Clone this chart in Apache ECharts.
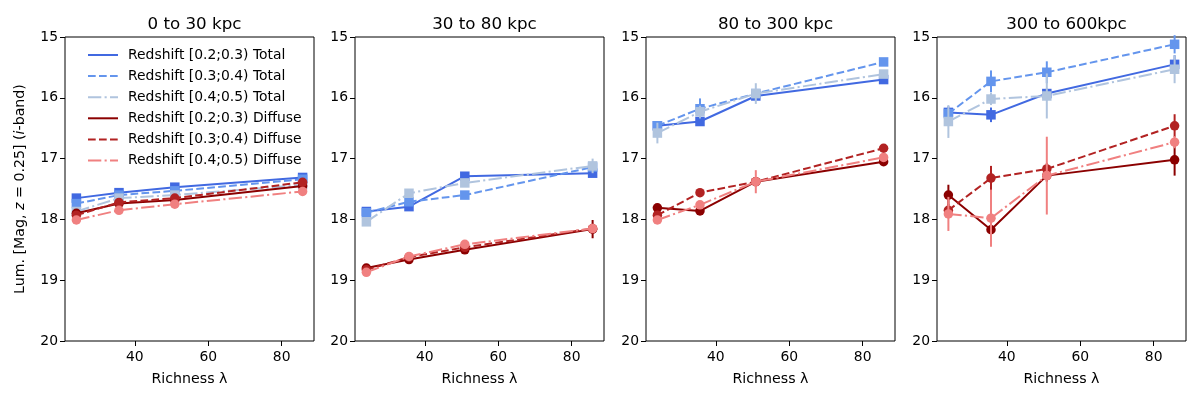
<!DOCTYPE html>
<html>
<head>
<meta charset="utf-8">
<script src="https://cdn.jsdelivr.net/npm/echarts@6/dist/echarts.min.js"></script>
<style>
html,body{margin:0;padding:0;background:#fff;}
#chart{width:1200px;height:400px;}
</style>
</head>
<body>
<div id="chart"></div>
<script>
// ---- data ----
const richness = [24.1, 35.7, 50.9, 85.7];
const panelTitles = ['0 to 30 kpc', '30 to 80 kpc', '80 to 300 kpc', '300 to 600kpc'];
const yRange = [15, 20];
const xTickValues = [40, 60, 80];

const totalZ02 = [[17.65,17.56,17.47,17.31],[17.87,17.79,17.29,17.24],[16.46,16.39,15.97,15.70],[16.24,16.28,15.93,15.45]];
const totalZ03 = [[17.74,17.60,17.53,17.34],[17.89,17.71,17.60,17.14],[16.46,16.18,15.93,15.41],[16.26,15.73,15.58,15.12]];
const totalZ04 = [[17.87,17.65,17.60,17.43],[18.04,17.57,17.40,17.12],[16.58,16.23,15.93,15.61],[16.39,16.02,15.97,15.53]];
const diffuseZ02 = [[17.90,17.74,17.68,17.45],[18.80,18.66,18.50,18.16],[17.81,17.86,17.38,17.05],[17.60,18.17,17.28,17.02]];
const diffuseZ03 = [[17.93,17.72,17.65,17.39],[18.83,18.62,18.46,18.15],[17.93,17.56,17.38,16.83],[17.85,17.32,17.17,16.46]];
const diffuseZ04 = [[18.01,17.85,17.75,17.54],[18.87,18.61,18.41,18.15],[18.01,17.76,17.38,16.98],[17.91,17.98,17.28,16.73]];

const totalZ02Err = [[0.03,0.03,0.03,0.03],[0.04,0.03,0.06,0.04],[0.03,0.03,0.03,0.03],[0.10,0.12,0.08,0.15]];
const totalZ03Err = [[0.03,0.03,0.03,0.03],[0.03,0.03,0.03,0.03],[0.05,0.17,0.05,0.05],[0.05,0.18,0.18,0.15]];
const totalZ04Err = [[0.03,0.03,0.03,0.03],[0.05,0.05,0.05,0.12],[0.17,0.10,0.17,0.05],[0.27,0.10,0.37,0.23]];
const diffuseZ02Err = [[0.03,0.03,0.03,0.03],[0.03,0.03,0.03,0.15],[0.05,0.05,0.05,0.03],[0.17,0.20,0.10,0.26]];
const diffuseZ03Err = [[0.03,0.03,0.03,0.03],[0.03,0.03,0.03,0.03],[0.03,0.03,0.03,0.05],[0.10,0.20,0.10,0.19]];
const diffuseZ04Err = [[0.03,0.03,0.03,0.03],[0.03,0.03,0.03,0.03],[0.05,0.05,0.19,0.05],[0.28,0.47,0.64,0.10]];

const seriesNames = [
  'Redshift [0.2;0.3) Total','Redshift [0.3;0.4) Total','Redshift [0.4;0.5) Total',
  'Redshift [0.2;0.3) Diffuse','Redshift [0.3;0.4) Diffuse','Redshift [0.4;0.5) Diffuse'
];

// ---- styling ----
const FONT = 'DejaVu Sans';
const DASHED = [7.7, 3.3];
const DASHDOT = [13.3, 3.3, 2.1, 3.3];
const defs = [
  {values: totalZ02, errs: totalZ02Err, color: '#4169E1', dash: 'solid', symbol: 'rect'},
  {values: totalZ03, errs: totalZ03Err, color: '#6495ED', dash: DASHED, symbol: 'rect'},
  {values: totalZ04, errs: totalZ04Err, color: '#B0C4DE', dash: DASHDOT, symbol: 'rect'},
  {values: diffuseZ02, errs: diffuseZ02Err, color: '#8B0000', dash: 'solid', symbol: 'circle'},
  {values: diffuseZ03, errs: diffuseZ03Err, color: '#B22222', dash: DASHED, symbol: 'circle'},
  {values: diffuseZ04, errs: diffuseZ04Err, color: '#F08080', dash: DASHDOT, symbol: 'circle'}
];
const gridLefts = [65, 355, 646, 937];
const gridWidth = 249;

const grids = [], xAxes = [], yAxes = [], titles = [], series = [];
gridLefts.forEach((left, p) => {
  grids.push({left: left, top: 37, width: gridWidth, height: 304, show: true,
    borderColor: '#000', borderWidth: 1, backgroundColor: 'transparent', containLabel: false});
  titles.push({text: panelTitles[p], left: left + gridWidth / 2, textAlign: 'center', top: 11,
    textStyle: {fontFamily: FONT, fontSize: 16.7, fontWeight: 'normal', color: '#000'}});
  xAxes.push({type: 'value', gridIndex: p, min: 21, max: 88.8,
    name: 'Richness λ', nameLocation: 'middle', nameGap: 31,
    nameTextStyle: {fontFamily: FONT, fontSize: 14.2, color: '#000'},
    axisLine: {show: false},
    axisTick: {show: true, length: 5, lineStyle: {color: '#000', width: 1}, customValues: xTickValues},
    axisLabel: {fontFamily: FONT, fontSize: 13.9, color: '#000', margin: 9, customValues: xTickValues},
    splitLine: {show: false}});
  const ya = {type: 'value', gridIndex: p, min: yRange[0], max: yRange[1], interval: 1, inverse: true,
    axisLine: {show: false},
    axisTick: {show: true, length: 5, lineStyle: {color: '#000', width: 1}},
    axisLabel: {fontFamily: FONT, fontSize: 13.9, color: '#000', margin: 7},
    splitLine: {show: false}};
  if (p === 0) {
    ya.name = '{n|Lum. [Mag, }{i|z}{n| = 0.25] (}{i|i}{n|-band)}';
    ya.nameLocation = 'middle';
    ya.nameGap = 38;
    ya.nameTextStyle = {rich: {
      n: {fontFamily: FONT, fontSize: 14.2, color: '#000'},
      i: {fontFamily: FONT, fontSize: 14.2, color: '#000', fontStyle: 'italic'}
    }};
  }
  yAxes.push(ya);

  defs.forEach((d, i) => {
    const errData = richness.map((x, k) => [x, d.values[p][k], d.errs[p][k]]);
    series.push({
      type: 'custom', xAxisIndex: p, yAxisIndex: p, z: 2 + 2 * i, silent: true,
      data: errData, encode: {x: 0, y: 1},
      renderItem: function (params, api) {
        const x = api.value(0), y = api.value(1), e = api.value(2);
        const a = api.coord([x, y - e]);
        const b = api.coord([x, y + e]);
        return {type: 'line', shape: {x1: a[0], y1: a[1], x2: b[0], y2: b[1]},
          style: {stroke: d.color, lineWidth: 2}};
      }
    });
    series.push({
      type: 'line', name: seriesNames[i], xAxisIndex: p, yAxisIndex: p, z: 3 + 2 * i,
      data: richness.map((x, k) => [x, d.values[p][k]]),
      symbol: d.symbol, symbolSize: 9.5, showSymbol: true,
      lineStyle: {color: d.color, width: 2, type: d.dash},
      itemStyle: {color: d.color, borderWidth: 0},
      emphasis: {disabled: true}
    });
  });
});

const chart = echarts.init(document.getElementById('chart'), null, {renderer: 'canvas'});
chart.setOption({
  animation: false,
  backgroundColor: '#fff',
  title: titles,
  grid: grids,
  xAxis: xAxes,
  yAxis: yAxes,
  legend: {
    data: seriesNames, orient: 'vertical', left: 82, top: 43,
    itemWidth: 30, itemHeight: 14, itemGap: 7.1,
    itemStyle: {opacity: 0},
    textStyle: {fontFamily: FONT, fontSize: 13.9, color: '#000', padding: [0, 0, 0, 5]},
    selectedMode: false
  },
  series: series
});
</script>
</body>
</html>
